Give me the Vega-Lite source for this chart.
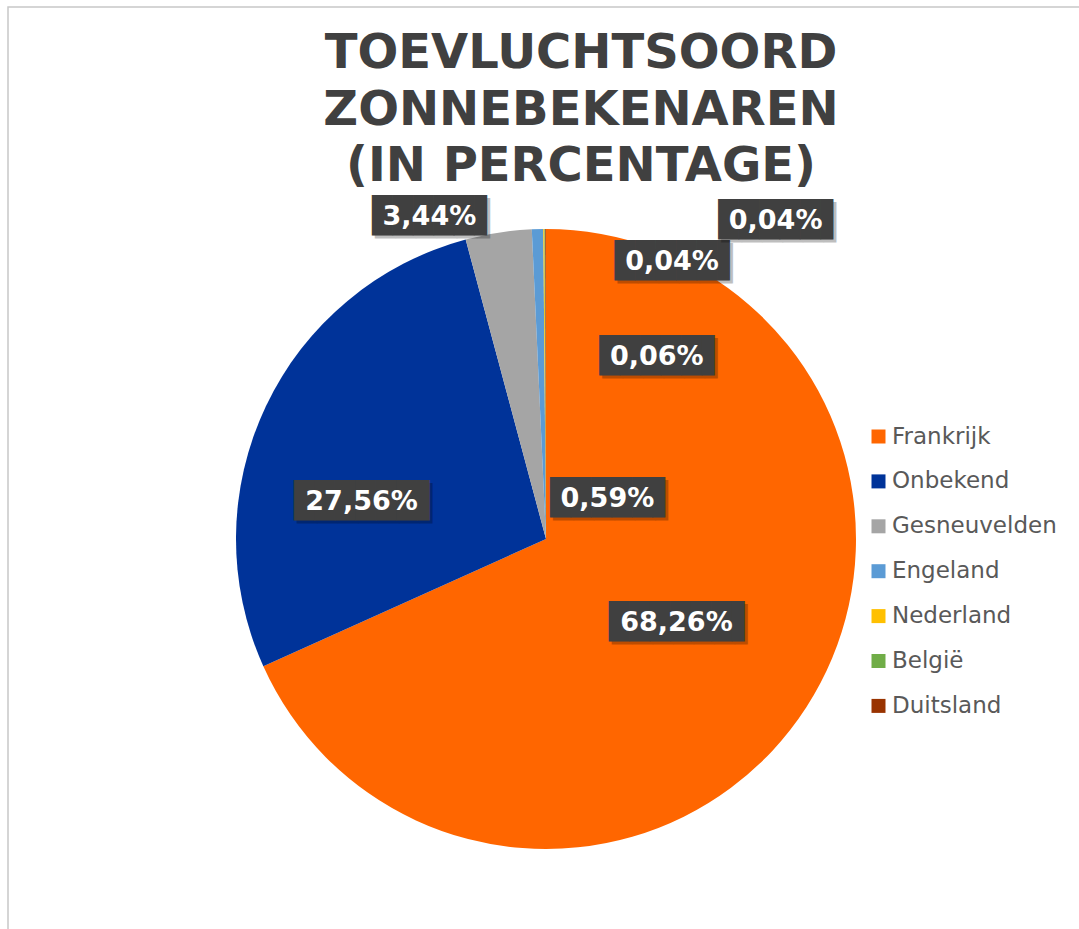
{
  "$schema": "https://vega.github.io/schema/vega-lite/v6.json",
  "width": 1076,
  "height": 1064,
  "autosize": {"type": "none"},
  "padding": {"left": 8, "top": 7, "right": 0, "bottom": 0},
  "background": "white",
  "view": {"stroke": "#c8c8c8", "strokeWidth": 1.5},
  "title": {
    "text": ["TOEVLUCHTSOORD", "ZONNEBEKENAREN", "(IN PERCENTAGE)"],
    "font": "DejaVu Sans", "fontSize": 48, "fontWeight": "bold", "color": "#404040",
    "lineHeight": 56.5, "anchor": "middle", "frame": "group", "dx": 35, "offset": -222, "baseline": "alphabetic"
  },
  "data": {"values": [
    {"land": "Frankrijk", "pct": 68.26, "label": "68,26%", "rank": 1},
    {"land": "Onbekend", "pct": 27.56, "label": "27,56%", "rank": 2},
    {"land": "Gesneuvelden", "pct": 3.44, "label": "3,44%", "rank": 3},
    {"land": "Engeland", "pct": 0.59, "label": "0,59%", "rank": 4},
    {"land": "Nederland", "pct": 0.06, "label": "0,06%", "rank": 5},
    {"land": "België", "pct": 0.04, "label": "0,04%", "rank": 6},
    {"land": "Duitsland", "pct": 0.04, "label": "0,04%", "rank": 7}
  ]},
  "encoding": {
    "theta": {"field": "pct", "type": "quantitative", "stack": true},
    "order": {"field": "rank", "type": "quantitative"},
    "detail": {"field": "land", "type": "nominal"}
  },
  "layer": [
    {
      "mark": {"type": "arc", "outerRadius": 310},
      "encoding": {
        "color": {
          "field": "land", "type": "nominal",
          "scale": {
            "domain": ["Frankrijk", "Onbekend", "Gesneuvelden", "Engeland", "Nederland", "België", "Duitsland"],
            "range": ["#ff6600", "#003399", "#a5a5a5", "#5b9bd5", "#ffc000", "#70ad47", "#993300"]
          },
          "legend": {
            "title": null, "orient": "none", "legendX": 859, "legendY": 418,
            "symbolType": "square", "symbolSize": 196, "symbolStrokeWidth": 0,
            "labelFont": "DejaVu Sans", "labelFontSize": 23, "labelColor": "#595959",
            "labelOffset": 2, "rowPadding": 20.9, "padding": 0, "labelLimit": 300
          }
        }
      }
    },
    {"mark": {"type": "text", "font": "DejaVu Sans Mono", "fontSize": 34, "radius": 153, "dx": 9, "dy": 4, "baseline": "middle", "align": "center", "color": "#000000", "opacity": 0.25},
     "encoding": {"text": {"condition": {"test": "datum.land === 'Frankrijk'", "value": "██████▋"}, "value": ""}}},
    {"mark": {"type": "text", "font": "DejaVu Sans Mono", "fontSize": 34, "radius": 153, "dx": 6, "dy": 1, "baseline": "middle", "align": "center", "color": "#404040"},
     "encoding": {"text": {"condition": {"test": "datum.land === 'Frankrijk'", "value": "██████▋"}, "value": ""}}},
    {"mark": {"type": "text", "font": "DejaVu Sans", "fontWeight": "bold", "fontSize": 27, "radius": 153, "dx": 2, "dy": 1, "baseline": "middle", "align": "center", "color": "#ffffff"},
     "encoding": {"text": {"condition": {"test": "datum.land === 'Frankrijk'", "field": "label"}, "value": ""}}},

    {"mark": {"type": "text", "font": "DejaVu Sans Mono", "fontSize": 34, "radius": 187, "dx": -8.5, "dy": 46.5, "baseline": "middle", "align": "center", "color": "#000000", "opacity": 0.25},
     "encoding": {"text": {"condition": {"test": "datum.land === 'Onbekend'", "value": "██████▋"}, "value": ""}}},
    {"mark": {"type": "text", "font": "DejaVu Sans Mono", "fontSize": 34, "radius": 187, "dx": -11.5, "dy": 43.5, "baseline": "middle", "align": "center", "color": "#404040"},
     "encoding": {"text": {"condition": {"test": "datum.land === 'Onbekend'", "value": "██████▋"}, "value": ""}}},
    {"mark": {"type": "text", "font": "DejaVu Sans", "fontWeight": "bold", "fontSize": 27, "radius": 187, "dx": -15.5, "dy": 43.5, "baseline": "middle", "align": "center", "color": "#ffffff"},
     "encoding": {"text": {"condition": {"test": "datum.land === 'Onbekend'", "field": "label"}, "value": ""}}},

    {"mark": {"type": "text", "font": "DejaVu Sans Mono", "fontSize": 34, "radius": 330, "dx": -59, "dy": 7.5, "baseline": "middle", "align": "center", "color": "#000000", "opacity": 0.25},
     "encoding": {"text": {"condition": {"test": "datum.land === 'Gesneuvelden'", "value": "█████▋"}, "value": ""}}},
    {"mark": {"type": "text", "font": "DejaVu Sans Mono", "fontSize": 34, "radius": 330, "dx": -62, "dy": 4.5, "baseline": "middle", "align": "center", "color": "#404040"},
     "encoding": {"text": {"condition": {"test": "datum.land === 'Gesneuvelden'", "value": "█████▋"}, "value": ""}}},
    {"mark": {"type": "text", "font": "DejaVu Sans", "fontWeight": "bold", "fontSize": 27, "radius": 330, "dx": -66, "dy": 4.5, "baseline": "middle", "align": "center", "color": "#ffffff"},
     "encoding": {"text": {"condition": {"test": "datum.land === 'Gesneuvelden'", "field": "label"}, "value": ""}}},

    {"mark": {"type": "text", "font": "DejaVu Sans Mono", "fontSize": 34, "radius": 40, "dx": 69.5, "dy": 3, "baseline": "middle", "align": "center", "color": "#000000", "opacity": 0.25},
     "encoding": {"text": {"condition": {"test": "datum.land === 'Engeland'", "value": "█████▋"}, "value": ""}}},
    {"mark": {"type": "text", "font": "DejaVu Sans Mono", "fontSize": 34, "radius": 40, "dx": 66.5, "dy": 0, "baseline": "middle", "align": "center", "color": "#404040"},
     "encoding": {"text": {"condition": {"test": "datum.land === 'Engeland'", "value": "█████▋"}, "value": ""}}},
    {"mark": {"type": "text", "font": "DejaVu Sans", "fontWeight": "bold", "fontSize": 27, "radius": 40, "dx": 62.5, "dy": 0, "baseline": "middle", "align": "center", "color": "#ffffff"},
     "encoding": {"text": {"condition": {"test": "datum.land === 'Engeland'", "field": "label"}, "value": ""}}},

    {"mark": {"type": "text", "font": "DejaVu Sans Mono", "fontSize": 34, "radius": 182, "dx": 119, "dy": 3, "baseline": "middle", "align": "center", "color": "#000000", "opacity": 0.25},
     "encoding": {"text": {"condition": {"test": "datum.land === 'Nederland'", "value": "█████▋"}, "value": ""}}},
    {"mark": {"type": "text", "font": "DejaVu Sans Mono", "fontSize": 34, "radius": 182, "dx": 116, "dy": 0, "baseline": "middle", "align": "center", "color": "#404040"},
     "encoding": {"text": {"condition": {"test": "datum.land === 'Nederland'", "value": "█████▋"}, "value": ""}}},
    {"mark": {"type": "text", "font": "DejaVu Sans", "fontWeight": "bold", "fontSize": 27, "radius": 182, "dx": 112, "dy": 0, "baseline": "middle", "align": "center", "color": "#ffffff"},
     "encoding": {"text": {"condition": {"test": "datum.land === 'Nederland'", "field": "label"}, "value": ""}}},

    {"mark": {"type": "text", "font": "DejaVu Sans Mono", "fontSize": 34, "radius": 277, "dx": 134, "dy": 3, "baseline": "middle", "align": "center", "color": "#000000", "opacity": 0.25},
     "encoding": {"text": {"condition": {"test": "datum.land === 'België'", "value": "█████▋"}, "value": ""}}},
    {"mark": {"type": "text", "font": "DejaVu Sans Mono", "fontSize": 34, "radius": 277, "dx": 131, "dy": 0, "baseline": "middle", "align": "center", "color": "#404040"},
     "encoding": {"text": {"condition": {"test": "datum.land === 'België'", "value": "█████▋"}, "value": ""}}},
    {"mark": {"type": "text", "font": "DejaVu Sans", "fontWeight": "bold", "fontSize": 27, "radius": 277, "dx": 127, "dy": 0, "baseline": "middle", "align": "center", "color": "#ffffff"},
     "encoding": {"text": {"condition": {"test": "datum.land === 'België'", "field": "label"}, "value": ""}}},

    {"mark": {"type": "text", "font": "DejaVu Sans Mono", "fontSize": 34, "radius": 318, "dx": 237, "dy": 3, "baseline": "middle", "align": "center", "color": "#000000", "opacity": 0.25},
     "encoding": {"text": {"condition": {"test": "datum.land === 'Duitsland'", "value": "█████▋"}, "value": ""}}},
    {"mark": {"type": "text", "font": "DejaVu Sans Mono", "fontSize": 34, "radius": 318, "dx": 234, "dy": 0, "baseline": "middle", "align": "center", "color": "#404040"},
     "encoding": {"text": {"condition": {"test": "datum.land === 'Duitsland'", "value": "█████▋"}, "value": ""}}},
    {"mark": {"type": "text", "font": "DejaVu Sans", "fontWeight": "bold", "fontSize": 27, "radius": 318, "dx": 230, "dy": 0, "baseline": "middle", "align": "center", "color": "#ffffff"},
     "encoding": {"text": {"condition": {"test": "datum.land === 'Duitsland'", "field": "label"}, "value": ""}}}
  ]
}
